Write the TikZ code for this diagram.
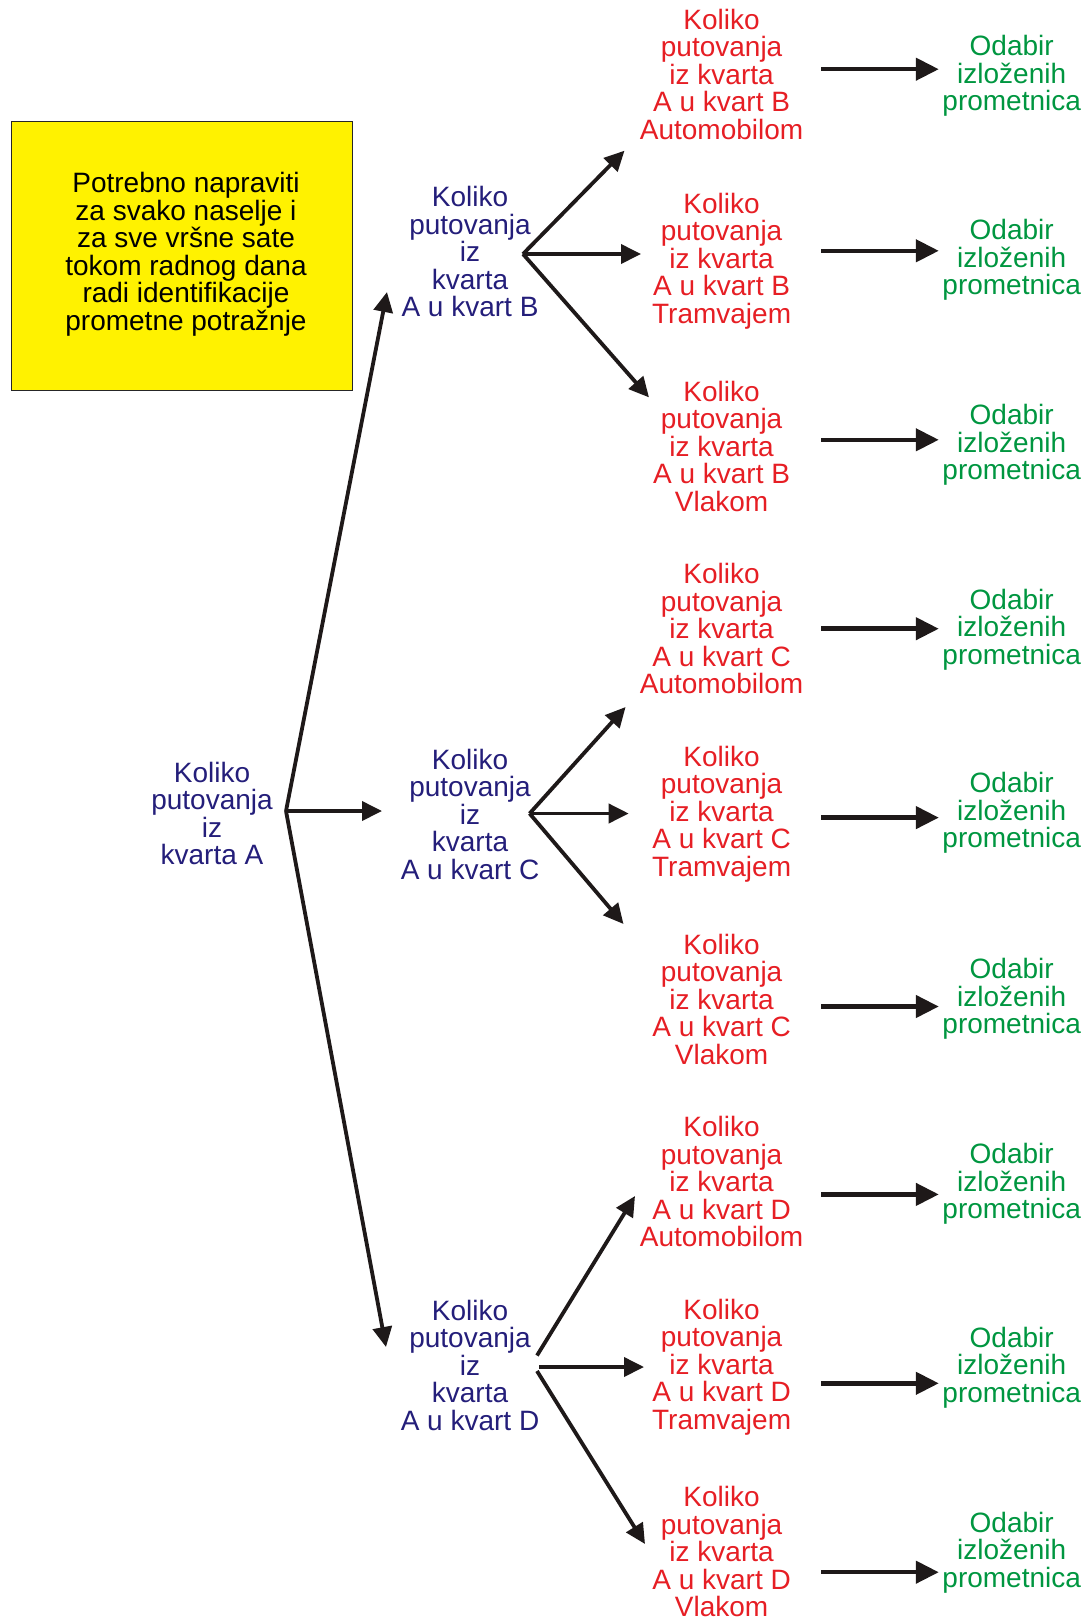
\documentclass[tikz,border=0pt]{standalone}
\usepackage{fontspec}
\setmainfont{Liberation Sans}
\usetikzlibrary{arrows.meta,calc}
\definecolor{navyt}{RGB}{36,30,122}
\definecolor{redt}{RGB}{230,30,36}
\definecolor{greent}{RGB}{0,150,64}
\definecolor{ybox}{RGB}{255,242,0}
\definecolor{ink}{RGB}{30,25,25}
\begin{document}
\begin{tikzpicture}[x=1pt,y=-1pt,
  txt/.style={align=center, font=\fontsize{28}{27.5}\selectfont, inner sep=0pt,
    execute at begin node=\strut, execute at end node=\strut},
  qnode/.style={txt, text=navyt},
  rnode/.style={txt, text=redt, minimum width=199pt},
  gnode/.style={txt, text=greent, minimum width=145.4pt},
  noteframe/.style={fill=ybox, draw=black!85, line width=0.8pt,
    minimum width=341pt, minimum height=269pt, inner sep=0pt},
  notetext/.style={txt, text=black},
  arr/.style={draw=ink, line width=3.8pt, -{Triangle[length=20pt,width=19pt]}},
  garr/.style={draw=ink, line width=4.5pt, -{Triangle[length=23pt,width=22pt]}}
]
\useasboundingbox (0,0) rectangle (1086,1618);

% note box
\node[noteframe] (frame) at (181.5,255.5) {};
\node[notetext] (note) at ($(frame.center)+(4.5,0)$) {Potrebno napraviti\\za svako naselje i\\za sve vršne sate\\tokom radnog dana\\radi identifikacije\\prometne potražnje};

% question nodes
\node[qnode] (qA) at (212,817.5) {Koliko\\putovanja\\iz\\kvarta A};
\node[qnode] (qB) at (470,255.5) {Koliko\\putovanja\\iz\\kvarta\\A u kvart B};
\node[qnode] (qC) at (470,818) {Koliko\\putovanja\\iz\\kvarta\\A u kvart C};
\node[qnode] (qD) at (470,1369) {Koliko\\putovanja\\iz\\kvarta\\A u kvart D};

% mode nodes
\node[rnode] (rB1) at (721.6,78.4) {Koliko\\putovanja\\iz kvarta\\A u kvart B\\Automobilom};
\node[rnode] (rB2) at (721.6,262) {Koliko\\putovanja\\iz kvarta\\A u kvart B\\Tramvajem};
\node[rnode] (rB3) at (721.6,450) {Koliko\\putovanja\\iz kvarta\\A u kvart B\\Vlakom};
\node[rnode] (rC1) at (721.6,632.7) {Koliko\\putovanja\\iz kvarta\\A u kvart C\\Automobilom};
\node[rnode] (rC2) at (721.6,815.4) {Koliko\\putovanja\\iz kvarta\\A u kvart C\\Tramvajem};
\node[rnode] (rC3) at (721.6,1003.3) {Koliko\\putovanja\\iz kvarta\\A u kvart C\\Vlakom};
\node[rnode] (rD1) at (721.6,1185.5) {Koliko\\putovanja\\iz kvarta\\A u kvart D\\Automobilom};
\node[rnode] (rD2) at (721.6,1368.2) {Koliko\\putovanja\\iz kvarta\\A u kvart D\\Tramvajem};
\node[rnode] (rD3) at (721.6,1555.6) {Koliko\\putovanja\\iz kvarta\\A u kvart D\\Vlakom};

% result nodes
\node[gnode] (gB1) at (1011.7,77.3) {Odabir\\izloženih\\prometnica};
\node[gnode] (gB2) at (1011.7,261) {Odabir\\izloženih\\prometnica};
\node[gnode] (gB3) at (1011.7,446) {Odabir\\izloženih\\prometnica};
\node[gnode] (gC1) at (1011.7,630.6) {Odabir\\izloženih\\prometnica};
\node[gnode] (gC2) at (1011.7,814.4) {Odabir\\izloženih\\prometnica};
\node[gnode] (gC3) at (1011.7,1000) {Odabir\\izloženih\\prometnica};
\node[gnode] (gD1) at (1011.7,1185) {Odabir\\izloženih\\prometnica};
\node[gnode] (gD2) at (1011.7,1368.7) {Odabir\\izloženih\\prometnica};
\node[gnode] (gD3) at (1011.7,1553.5) {Odabir\\izloženih\\prometnica};

% fork points and arrow tips
\coordinate (fA) at (286,811);
\coordinate (tAB) at (387,292);
\coordinate (tAC) at (382,811);
\coordinate (tAD) at (386,1347);
\coordinate (fB) at (523,254);
\coordinate (tB1) at (624.5,150.7);
\coordinate (tB2) at (641,254);
\coordinate (tB3) at (649,397.4);
\coordinate (fC) at (529.6,813.5);
\coordinate (tC1) at (625.6,707);
\coordinate (tC2) at (628.7,813.5);
\coordinate (tC3) at (623.5,924);
\coordinate (fD1) at (537,1355.5);
\coordinate (fD2) at (539,1367);
\coordinate (fD3) at (537,1371);
\coordinate (tD1) at (635,1196);
\coordinate (tD2) at (644,1367);
\coordinate (tD3) at (645,1544);

\draw[arr] (fA) -- (tAB);
\draw[arr] (fA) -- (tAC);
\draw[arr] (fA) -- (tAD);
\draw[arr] (fB) -- (tB1);
\draw[arr] (fB) -- (tB2);
\draw[arr] (fB) -- (tB3);
\draw[arr] (fC) -- (tC1);
\draw[arr] (fC) -- (tC2);
\draw[arr] (fC) -- (tC3);
\draw[arr] (fD1) -- (tD1);
\draw[arr] (fD2) -- (tD2);
\draw[arr] (fD3) -- (tD3);

% arrows to results
\draw[garr] ([yshift=9.2pt]rB1.east) -- ([yshift=9.2pt]rB1.east -| gB1.west);
\draw[garr] ([yshift=11.2pt]rB2.east) -- ([yshift=11.2pt]rB2.east -| gB2.west);
\draw[garr] ([yshift=10.2pt]rB3.east) -- ([yshift=10.2pt]rB3.east -| gB3.west);
\draw[garr] ([yshift=4pt]rC1.east) -- ([yshift=4pt]rC1.east -| gC1.west);
\draw[garr] ([yshift=-2.2pt]rC2.east) -- ([yshift=-2.2pt]rC2.east -| gC2.west);
\draw[garr] ([yshift=-3.2pt]rC3.east) -- ([yshift=-3.2pt]rC3.east -| gC3.west);
\draw[garr] ([yshift=-8.9pt]rD1.east) -- ([yshift=-8.9pt]rD1.east -| gD1.west);
\draw[garr] ([yshift=-15.1pt]rD2.east) -- ([yshift=-15.1pt]rD2.east -| gD2.west);
\draw[garr] ([yshift=-16.6pt]rD3.east) -- ([yshift=-16.6pt]rD3.east -| gD3.west);
\end{tikzpicture}
\end{document}
